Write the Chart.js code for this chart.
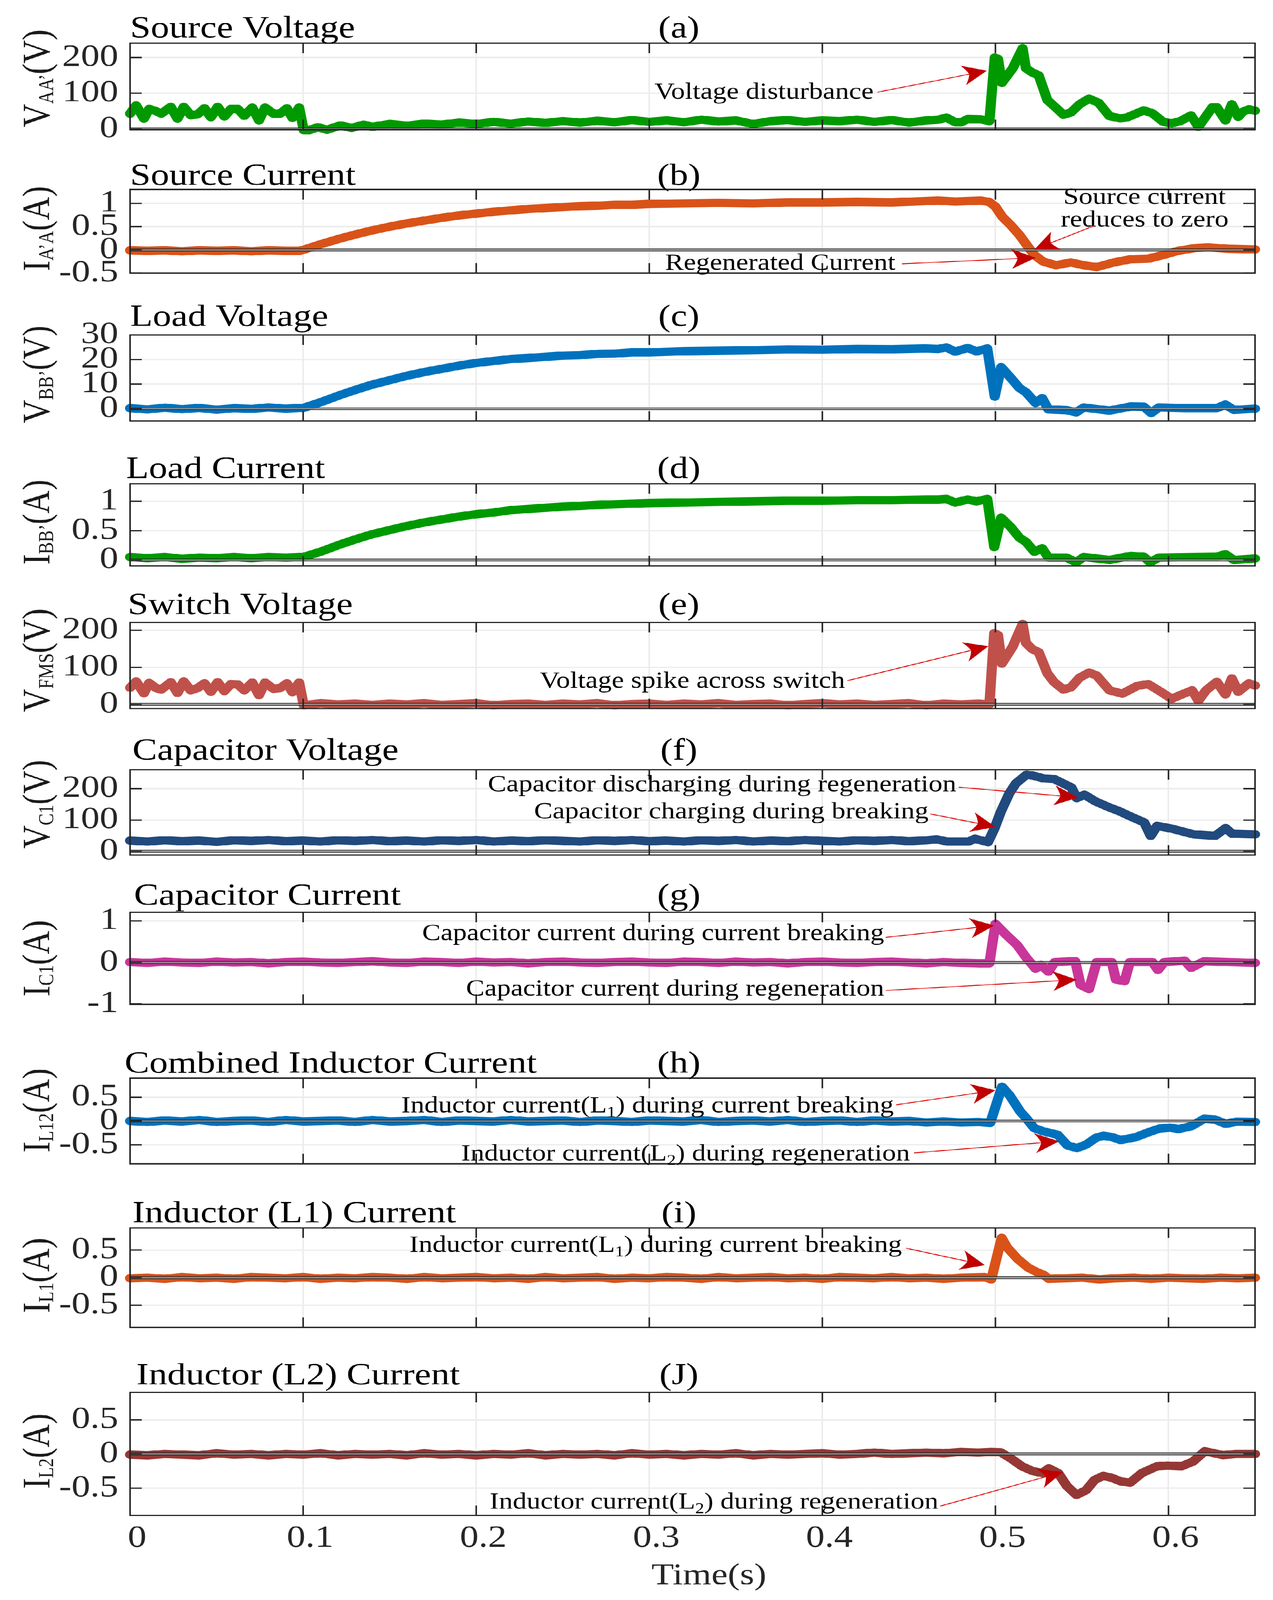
<!DOCTYPE html>
<html>
<head>
<meta charset="utf-8">
<script src="https://cdn.jsdelivr.net/npm/chart.js@4.4.0/dist/chart.umd.min.js"></script>
<style>
  html, body { margin: 0; background: #fff; overflow: hidden; }
  #page { position: relative; width: 3259px; height: 4958px; background: #fff; transform-origin: 0 0; }
  #page canvas { position: absolute; left: 0; }
</style>
</head>
<body>
<div id="page"></div>
<script>
// ---- data (time in s, value in V or A) ----
const xTicks = [0, 0.1, 0.2, 0.3, 0.4, 0.5, 0.6];

const srcVoltage = [
  [0,43],[0.0035,66],[0.008,29],[0.011,56],[0.015,50],[0.018,43],[0.0235,62],[0.0274,29],[0.031,62],[0.035,39],[0.039,41],[0.043,58],[0.0467,33],[0.0506,62],[0.0545,35],[0.0583,56],[0.0622,56],[0.066,37],[0.0706,60],[0.0745,24],[0.078,60],[0.0828,43],[0.0867,43],[0.0906,58],[0.0938,31],[0.0977,60],
  [0.1003,-3],[0.1035,-3],[0.1086,5],[0.1138,-2],[0.1215,10],[0.128,3],[0.135,12],[0.14,6],[0.15,14],[0.16,9],[0.17,15],[0.18,12],[0.19,18],[0.2,14],[0.21,20],[0.22,15],[0.23,21],[0.24,17],[0.25,22],[0.26,18],[0.27,23],[0.28,19],[0.29,25],[0.3,20],[0.31,24],[0.32,19],[0.33,26],[0.34,21],[0.35,24],[0.36,14],[0.37,22],[0.38,25],[0.39,20],[0.4,24],[0.41,22],[0.42,26],[0.43,20],[0.44,25],[0.45,18],[0.46,24],
  [0.467,26],[0.4717,32],[0.4767,19],[0.4804,19],[0.484,28],[0.4916,27],[0.4965,22],[0.4996,200],[0.5015,196],[0.5037,129],[0.51,170],[0.5157,226],[0.5176,170],[0.5213,158],[0.525,150],[0.53,81],[0.5337,65],[0.5393,40],[0.5436,46],[0.5486,69],[0.5541,85],[0.5597,73],[0.5659,36],[0.5721,30],[0.5758,32],[0.5857,52],[0.5907,44],[0.5969,20],[0.6018,16],[0.6068,22],[0.613,38],[0.6173,6],[0.6217,36],[0.6254,61],[0.6279,61],[0.6329,24],[0.6366,69],[0.6403,34],[0.6428,48],[0.6465,55],[0.65,51]
];

const srcCurrent = [
  [0,-0.01],[0.01,-0.02],[0.02,-0.01],[0.03,-0.03],[0.04,-0.01],[0.05,-0.02],[0.06,-0.01],[0.07,-0.03],[0.08,-0.01],[0.09,-0.02],[0.098,-0.02],[0.1,0],[0.11,0.12],[0.12,0.23],[0.13,0.33],[0.14,0.42],[0.15,0.5],[0.16,0.57],[0.17,0.63],[0.18,0.69],[0.19,0.74],[0.2,0.78],[0.21,0.82],[0.22,0.85],[0.23,0.88],[0.24,0.9],[0.25,0.92],[0.26,0.94],[0.27,0.95],[0.28,0.97],[0.29,0.97],[0.3,0.99],[0.32,1.0],[0.34,1.01],[0.36,1.0],[0.38,1.02],[0.4,1.02],[0.42,1.03],[0.44,1.02],[0.46,1.05],
  [0.4668,1.06],[0.4767,1.04],[0.4916,1.06],[0.4965,1.03],[0.5,0.93],[0.504,0.71],[0.5089,0.53],[0.5139,0.32],[0.5188,0.07],[0.5225,-0.11],[0.5275,-0.25],[0.535,-0.33],[0.5436,-0.27],[0.551,-0.33],[0.5585,-0.37],[0.5684,-0.27],[0.5783,-0.2],[0.5882,-0.19],[0.5969,-0.11],[0.6056,-0.02],[0.6155,0.04],[0.6229,0.055],[0.634,0.025],[0.65,0.01]
];

const loadVoltage = [
  [0,0.2],[0.01,-0.3],[0.02,0.4],[0.03,-0.2],[0.04,0.3],[0.05,-0.4],[0.06,0.2],[0.07,-0.1],[0.08,0.5],[0.09,0],[0.098,0.3],[0.1,0.3],[0.11,2.6],[0.12,5.2],[0.13,7.6],[0.14,9.8],[0.15,11.6],[0.16,13.4],[0.17,14.9],[0.18,16.2],[0.19,17.5],[0.2,18.6],[0.21,19.4],[0.22,20.2],[0.23,20.6],[0.24,21.1],[0.25,21.6],[0.26,21.8],[0.27,22.3],[0.28,22.4],[0.29,22.9],[0.3,22.9],[0.32,23.4],[0.34,23.6],[0.36,23.8],[0.38,24.1],[0.4,24.0],[0.42,24.3],[0.44,24.2],[0.46,24.5],
  [0.4668,24.3],[0.4717,24.9],[0.4767,23.2],[0.484,24.7],[0.4891,23.3],[0.4953,24.5],[0.4996,4.9],[0.5033,16.9],[0.5089,12.5],[0.5139,8.4],[0.5176,6.7],[0.5232,2.3],[0.527,4.3],[0.5306,-0.3],[0.5411,-0.6],[0.5467,-1.5],[0.551,0.5],[0.5659,-0.8],[0.5783,0.9],[0.5857,0.8],[0.59,-1.8],[0.5944,0.5],[0.6093,0.2],[0.6279,0.2],[0.6328,1.7],[0.6378,-0.5],[0.65,0]
];

const loadCurrent = [
  [0,0.05],[0.01,0.03],[0.02,0.05],[0.03,0.02],[0.04,0.04],[0.05,0.03],[0.06,0.05],[0.07,0.03],[0.08,0.05],[0.09,0.04],[0.098,0.05],[0.1,0.05],[0.11,0.14],[0.12,0.25],[0.13,0.35],[0.14,0.44],[0.15,0.51],[0.16,0.58],[0.17,0.64],[0.18,0.69],[0.19,0.74],[0.2,0.78],[0.21,0.81],[0.22,0.85],[0.23,0.87],[0.24,0.89],[0.25,0.91],[0.26,0.92],[0.27,0.94],[0.28,0.95],[0.29,0.96],[0.3,0.97],[0.32,0.98],[0.34,0.99],[0.36,1.0],[0.38,1.01],[0.4,1.01],[0.42,1.02],[0.44,1.02],[0.46,1.03],
  [0.4668,1.03],[0.4717,1.04],[0.4767,0.98],[0.484,1.03],[0.4891,1.0],[0.4953,1.04],[0.4993,0.22],[0.5033,0.72],[0.5089,0.56],[0.5139,0.38],[0.5176,0.31],[0.5225,0.14],[0.527,0.2],[0.5306,0.04],[0.5411,0.04],[0.5467,-0.04],[0.551,0.05],[0.5659,0],[0.5783,0.07],[0.5857,0.055],[0.5894,-0.04],[0.5944,0.04],[0.6279,0.055],[0.6328,0.1],[0.6378,0],[0.65,0.025]
];

const switchVoltage = [
  [0,45],[0.0035,62],[0.008,30],[0.011,58],[0.015,44],[0.018,40],[0.0235,60],[0.0274,31],[0.031,62],[0.035,38],[0.039,44],[0.043,57],[0.0467,34],[0.0506,60],[0.0545,36],[0.0583,55],[0.0622,54],[0.066,38],[0.0706,59],[0.0745,25],[0.078,59],[0.0828,42],[0.0867,44],[0.0906,57],[0.0938,33],[0.0977,59],
  [0.1003,-2],[0.11,3],[0.12,0],[0.13,2],[0.14,-1],[0.15,2],[0.16,0],[0.17,3],[0.18,-1],[0.19,1],[0.2,3],[0.21,-2],[0.22,1],[0.23,2],[0.24,-1],[0.25,2],[0.26,0],[0.27,3],[0.28,-2],[0.29,1],[0.3,2],[0.31,-1],[0.32,2],[0.33,0],[0.34,3],[0.35,-1],[0.36,1],[0.37,2],[0.38,-2],[0.39,1],[0.4,3],[0.41,0],[0.42,2],[0.43,-1],[0.44,1],[0.45,3],[0.46,-2],[0.47,2],[0.48,0],[0.49,2],
  [0.4965,0],[0.4993,192],[0.5015,187],[0.5037,110],[0.51,156],[0.5157,217],[0.5176,166],[0.5213,149],[0.525,141],[0.53,84],[0.5337,61],[0.5393,40],[0.5436,46],[0.5486,72],[0.5541,86],[0.5585,78],[0.5659,38],[0.5733,29],[0.582,50],[0.5882,55],[0.5956,34],[0.6018,15],[0.6068,25],[0.6136,38],[0.6173,10],[0.6217,38],[0.6279,61],[0.6329,27],[0.6366,70],[0.6403,34],[0.6465,57],[0.65,51]
];

const capVoltage = [
  [0,34],[0.01,31],[0.02,35],[0.03,32],[0.04,34],[0.05,30],[0.06,35],[0.07,33],[0.08,36],[0.09,32],[0.1,34],[0.11,31],[0.12,35],[0.13,33],[0.14,36],[0.15,32],[0.16,34],[0.17,31],[0.18,35],[0.19,33],[0.2,36],[0.21,31],[0.22,34],[0.23,32],[0.24,35],[0.25,33],[0.26,31],[0.27,35],[0.28,33],[0.29,36],[0.3,32],[0.31,34],[0.32,31],[0.33,35],[0.34,33],[0.35,36],[0.36,31],[0.37,34],[0.38,32],[0.39,36],[0.4,33],[0.41,31],[0.42,35],[0.43,33],[0.44,36],[0.45,32],[0.46,35],
  [0.466,38],[0.4722,31],[0.4845,31],[0.4882,40],[0.4957,29],[0.4994,72],[0.5031,126],[0.508,185],[0.5118,217],[0.518,245],[0.5217,242],[0.5278,233],[0.534,231],[0.5439,204],[0.547,170],[0.5514,181],[0.5576,160],[0.565,142],[0.5712,129],[0.5774,113],[0.586,92],[0.5897,49],[0.5934,81],[0.6021,72],[0.6145,54],[0.6269,49],[0.633,74],[0.6368,56],[0.65,54]
];

const capCurrent = [
  [0,0.01],[0.01,-0.01],[0.02,0.02],[0.03,0],[0.04,-0.01],[0.05,0.02],[0.06,0],[0.07,0.01],[0.08,-0.02],[0.09,0.01],[0.1,0.02],[0.11,0],[0.12,-0.01],[0.13,0.01],[0.14,0.03],[0.15,0],[0.16,-0.01],[0.17,0.02],[0.18,0.01],[0.19,-0.01],[0.2,0.02],[0.21,0],[0.22,0.01],[0.23,-0.02],[0.24,0.01],[0.25,0.02],[0.26,0],[0.27,-0.01],[0.28,0.01],[0.29,0.02],[0.3,0],[0.31,-0.01],[0.32,0.02],[0.33,0.01],[0.34,-0.01],[0.35,0.02],[0.36,0],[0.37,0.01],[0.38,-0.02],[0.39,0.01],[0.4,0.02],[0.41,0],[0.42,-0.01],[0.43,0.01],[0.44,0.02],[0.45,0],[0.46,-0.02],[0.47,0.01],[0.48,-0.01],[0.49,-0.02],
  [0.4965,-0.02],[0.5,0.93],[0.5064,0.66],[0.5126,0.42],[0.5176,0.13],[0.5232,-0.15],[0.5263,-0.06],[0.5306,-0.22],[0.5343,0.01],[0.5461,0.035],[0.5492,-0.54],[0.5541,-0.64],[0.5585,0.01],[0.5672,0.01],[0.5696,-0.41],[0.5746,-0.45],[0.5777,0.01],[0.5907,0.01],[0.5939,-0.18],[0.5976,0.01],[0.6093,0.045],[0.6131,-0.13],[0.6205,0.03],[0.635,0.01],[0.65,-0.01]
];

const combInductor = [
  [0,0],[0.01,-0.02],[0.02,0.01],[0.03,-0.01],[0.04,0.02],[0.05,-0.02],[0.06,0],[0.07,0.01],[0.08,-0.02],[0.09,0.02],[0.1,-0.01],[0.11,0],[0.12,0.01],[0.13,-0.02],[0.14,0.02],[0.15,-0.01],[0.16,0],[0.17,0.02],[0.18,-0.02],[0.19,0.01],[0.2,0],[0.21,-0.01],[0.22,0.02],[0.23,-0.01],[0.24,0],[0.25,0.01],[0.26,-0.02],[0.27,0.01],[0.28,0],[0.29,-0.02],[0.3,0.01],[0.31,0],[0.32,-0.01],[0.33,0.02],[0.34,-0.02],[0.35,0],[0.36,0.01],[0.37,-0.01],[0.38,0.02],[0.39,-0.02],[0.4,0],[0.41,0.01],[0.42,-0.02],[0.43,0.01],[0.44,-0.01],[0.45,0],[0.46,-0.03],[0.47,-0.01],[0.48,-0.03],[0.49,-0.02],
  [0.497,-0.04],[0.5038,0.72],[0.5082,0.54],[0.5143,0.2],[0.518,0.05],[0.5224,-0.15],[0.528,-0.22],[0.536,-0.29],[0.5415,-0.51],[0.5471,-0.57],[0.5527,-0.49],[0.5582,-0.35],[0.5625,-0.31],[0.5675,-0.34],[0.5724,-0.4],[0.5811,-0.34],[0.5897,-0.22],[0.5947,-0.16],[0.6009,-0.14],[0.6058,-0.17],[0.6132,-0.11],[0.6206,0.046],[0.6268,0.03],[0.633,-0.06],[0.6392,-0.015],[0.65,-0.02]
];

const inductor1 = [
  [0,-0.01],[0.01,0],[0.02,-0.02],[0.03,0.01],[0.04,-0.01],[0.05,0],[0.06,-0.02],[0.07,0.01],[0.08,0],[0.09,-0.01],[0.1,0.01],[0.11,-0.02],[0.12,0],[0.13,-0.01],[0.14,0.01],[0.15,0],[0.16,-0.02],[0.17,0.01],[0.18,-0.01],[0.19,0],[0.2,0.01],[0.21,-0.01],[0.22,0],[0.23,-0.02],[0.24,0.01],[0.25,-0.01],[0.26,0],[0.27,0.01],[0.28,-0.02],[0.29,0],[0.3,-0.01],[0.31,0.01],[0.32,0],[0.33,-0.02],[0.34,0.01],[0.35,-0.01],[0.36,0],[0.37,0.01],[0.38,-0.01],[0.39,0],[0.4,-0.02],[0.41,0.01],[0.42,0],[0.43,-0.01],[0.44,0.01],[0.45,-0.01],[0.46,0],[0.47,-0.02],[0.48,0],
  [0.4937,0.01],[0.4976,-0.03],[0.5036,0.72],[0.5067,0.55],[0.5128,0.34],[0.519,0.18],[0.524,0.1],[0.5277,0.054],[0.5308,-0.02],[0.54,-0.01],[0.55,0],[0.56,-0.03],[0.57,-0.01],[0.58,0],[0.59,-0.02],[0.6,0],[0.61,-0.01],[0.62,-0.02],[0.63,0],[0.64,-0.01],[0.65,0]
];

const inductor2 = [
  [0,-0.01],[0.01,-0.02],[0.02,0],[0.03,-0.01],[0.04,-0.02],[0.05,0.01],[0.06,-0.01],[0.07,0],[0.08,-0.02],[0.09,0],[0.1,-0.01],[0.11,0.01],[0.12,-0.02],[0.13,0],[0.14,-0.01],[0.15,0],[0.16,-0.02],[0.17,0.01],[0.18,-0.01],[0.19,0],[0.2,-0.02],[0.21,0],[0.22,-0.01],[0.23,0.01],[0.24,-0.02],[0.25,0],[0.26,-0.01],[0.27,0],[0.28,-0.02],[0.29,0.01],[0.3,-0.01],[0.31,0],[0.32,-0.02],[0.33,0],[0.34,-0.01],[0.35,0.01],[0.36,-0.02],[0.37,0],[0.38,-0.01],[0.39,0],[0.4,0.01],[0.41,-0.01],[0.42,0],[0.43,0.02],[0.44,0],[0.45,0.01],[0.46,0.02],[0.47,0.01],[0.48,0.03],[0.49,0.02],
  [0.4975,0.03],[0.503,0.025],[0.5092,-0.07],[0.5153,-0.18],[0.5215,-0.25],[0.5271,-0.28],[0.5308,-0.21],[0.5363,-0.28],[0.5413,-0.47],[0.5468,-0.6],[0.5524,-0.53],[0.5573,-0.38],[0.5623,-0.32],[0.5673,-0.35],[0.5722,-0.4],[0.5778,-0.42],[0.5846,-0.28],[0.5933,-0.18],[0.5994,-0.17],[0.6075,-0.18],[0.6142,-0.11],[0.621,0.04],[0.6315,-0.017],[0.6389,0],[0.65,0]
];

const FONT = '"Liberation Serif", "Times New Roman", serif';
const INK = '#262626';
const L1text = [['Inductor current(L', 0], ['1', 1], [') during current breaking', 0]];
const L2text = [['Inductor current(L', 0], ['2', 1], [') during regeneration', 0]];

// panel layout: plot box top/bottom in figure pixels (3259 x 4958 figure)
const panels = [
  { title: 'Source Voltage', tag: '(a)', top: 134, bottom: 465, gap: 18, dx: 0, ldy: -25, data: srcVoltage, color: '#009a00',
    yMin: -1.5, yMax: 240, yTicks: [0, 100, 200], label: [['V', 0], ['AA’', 1], ['(V)', 0]],
    notes: [{ text: [['Voltage disturbance', 0]], x: 0.4296, y: 106, align: 'right', tail: [0.4318, 103], tip: [0.495, 163] }] },
  { title: 'Source Current', tag: '(b)', top: 587, bottom: 910, gap: 14, dx: 0, ldy: -8, data: srcCurrent, color: '#d95319',
    yMin: -0.5, yMax: 1.3, yTicks: [-0.5, 0, 0.5, 1], label: [['I', 0], ['A’A', 1], ['(A)', 0]],
    notes: [{ text: [['Source current', 0]], x: 0.5862, y: 1.156, align: 'center' },
            { text: [['reduces to zero', 0]], x: 0.5862, y: 0.667, align: 'center', tail: [0.5569, 0.517], tip: [0.5226, 0.011] },
            { text: [['Regenerated Current', 0]], x: 0.4422, y: -0.26, align: 'right', tail: [0.446, -0.3], tip: [0.5232, -0.17] }] },
  { title: 'Load Voltage', tag: '(c)', top: 1038, bottom: 1368, gap: 28, dx: 0, ldy: -11, data: loadVoltage, color: '#0072bd',
    yMin: -5, yMax: 30, yTicks: [0, 10, 20, 30], label: [['V', 0], ['BB’', 1], ['(V)', 0]], notes: [] },
  { title: 'Load Current', tag: '(d)', top: 1499, bottom: 1817, gap: 18, dx: -10, ldy: -8, data: loadCurrent, color: '#009a00',
    yMin: -0.1, yMax: 1.3, yTicks: [0, 0.5, 1], label: [['I', 0], ['BB’', 1], ['(A)', 0]], notes: [] },
  { title: 'Switch Voltage', tag: '(e)', top: 1929, bottom: 2259, gap: 26, dx: -6, ldy: -16, data: switchVoltage, color: '#c0514a',
    yMin: -11, yMax: 221, yTicks: [0, 100, 200], label: [['V', 0], ['FMS', 1], ['(V)', 0]],
    notes: [{ text: [['Voltage spike across switch', 0]], x: 0.4131, y: 66, align: 'right', tail: [0.4144, 64], tip: [0.4959, 157] }] },
  { title: 'Capacitor Voltage', tag: '(f)', top: 2385, bottom: 2713, gap: 31, dx: 6, ldy: -25, data: capVoltage, color: '#214a7e',
    yMin: -12, yMax: 261, yTicks: [0, 100, 200], label: [['V', 0], ['C1', 1], ['(V)', 0]],
    notes: [{ text: [['Capacitor discharging during regeneration', 0]], x: 0.4774, y: 217, align: 'right', tail: [0.4788, 205], tip: [0.5479, 172] },
            { text: [['Capacitor charging during breaking', 0]], x: 0.4614, y: 129.5, align: 'right', tail: [0.4623, 119.5], tip: [0.5, 78] }] },
  { title: 'Capacitor Current', tag: '(g)', top: 2827, bottom: 3176, gap: 23, dx: 10, ldy: 0, data: capCurrent, color: '#c8369a',
    yMin: -1.01, yMax: 1.21, yTicks: [-1, 0, 1], label: [['I', 0], ['C1', 1], ['(A)', 0]],
    notes: [{ text: [['Capacitor current during current breaking', 0]], x: 0.4357, y: 0.726, align: 'right', tail: [0.4366, 0.605], tip: [0.4993, 0.892] },
            { text: [['Capacitor current during regeneration', 0]], x: 0.4357, y: -0.61, align: 'right', tail: [0.4366, -0.675], tip: [0.547, -0.414] }] },
  { title: 'Combined Inductor Current', tag: '(h)', top: 3341, bottom: 3670, gap: 17, dx: -14, ldy: -33, data: combInductor, color: '#0072bd',
    yMin: -0.9, yMax: 0.9, yTicks: [-0.5, 0, 0.5], label: [['I', 0], ['L12', 1], ['(A)', 0]],
    notes: [{ text: L1text, x: 0.4413, y: 0.342, align: 'right', tail: [0.4427, 0.34], tip: [0.5, 0.645] },
            { text: L2text, x: 0.4506, y: -0.67, align: 'right', tail: [0.453, -0.67], tip: [0.5368, -0.426] }] },
  { title: 'Inductor (L1) Current', tag: '(i)', top: 3805, bottom: 4177, gap: 17, dx: 6, ldy: -7, data: inductor1, color: '#d95319',
    yMin: -0.9, yMax: 0.9, yTicks: [-0.5, 0, 0.5], label: [['I', 0], ['L1', 1], ['(A)', 0]],
    notes: [{ text: L1text, x: 0.446, y: 0.611, align: 'right', tail: [0.4483, 0.534], tip: [0.4939, 0.227] }] },
  { title: 'Inductor (L2) Current', tag: '(J)', top: 4315, bottom: 4696, gap: 25, dx: 16, ldy: -9, data: inductor2, color: '#953835',
    yMin: -0.9, yMax: 0.9, yTicks: [-0.5, 0, 0.5], label: [['I', 0], ['L2', 1], ['(A)', 0]],
    notes: [{ text: L2text, x: 0.467, y: -0.689, align: 'right', tail: [0.468, -0.764], tip: [0.539, -0.263] }] }
];

function richWidth(ctx, segs, main, sub) {
  let w = 0;
  for (const [s, isSub] of segs) {
    ctx.font = (isSub ? sub : main) + 'px ' + FONT;
    w += ctx.measureText(s).width;
  }
  return w;
}

function drawRich(ctx, segs, x, base, main, sub, drop) {
  let cx = x;
  for (const [s, isSub] of segs) {
    ctx.font = (isSub ? sub : main) + 'px ' + FONT;
    ctx.fillText(s, cx, base + (isSub ? drop : 0));
    cx += ctx.measureText(s).width;
  }
}

function arrow(ctx, x0, y0, x1, y1) {
  const ang = Math.atan2(y1 - y0, x1 - x0);
  const c = Math.cos(ang), s = Math.sin(ang);
  const pt = (a, p) => [x1 - a * c - p * s, y1 - a * s + p * c];
  const L = 62, W = 31, N = 46;
  const n = pt(N, 0);
  ctx.strokeStyle = '#dd0000';
  ctx.lineWidth = 2.5;
  ctx.beginPath(); ctx.moveTo(x0, y0); ctx.lineTo(n[0], n[1]); ctx.stroke();
  const c1 = pt(L, W), c2 = pt(L, -W), q1 = pt(N + 4, W * 0.45), q2 = pt(N + 4, -W * 0.45);
  ctx.fillStyle = '#c00000';
  ctx.beginPath();
  ctx.moveTo(x1, y1);
  ctx.lineTo(c1[0], c1[1]);
  ctx.quadraticCurveTo(q1[0], q1[1], n[0], n[1]);
  ctx.quadraticCurveTo(q2[0], q2[1], c2[0], c2[1]);
  ctx.closePath();
  ctx.fill();
}

function decorFor(p, last) {
  return {
    id: 'decor',
    afterDatasetsDraw(chart) {
      const { ctx, chartArea: a, scales: { x, y } } = chart;
      ctx.save();
      // zero line
      const y0 = y.getPixelForValue(0);
      ctx.fillStyle = 'rgba(140,140,140,0.85)';
      ctx.fillRect(a.left, y0 - 3.5, a.right - a.left, 7);
      ctx.strokeStyle = '#111';
      ctx.lineWidth = 1.4;
      ctx.strokeRect(a.left, y0 - 3.5, a.right - a.left, 7);
      // frame and inward ticks
      ctx.strokeStyle = INK;
      ctx.lineWidth = 4;
      ctx.strokeRect(a.left, a.top, a.right - a.left, a.bottom - a.top);
      ctx.beginPath();
      for (const v of xTicks) {
        const px = x.getPixelForValue(v);
        ctx.moveTo(px, a.bottom); ctx.lineTo(px, a.bottom - 31);
        ctx.moveTo(px, a.top); ctx.lineTo(px, a.top + 31);
      }
      for (const v of p.yTicks) {
        const py = y.getPixelForValue(v);
        ctx.moveTo(a.left, py); ctx.lineTo(a.left + 30, py);
        ctx.moveTo(a.right, py); ctx.lineTo(a.right - 30, py);
      }
      ctx.stroke();
      // title and panel tag
      ctx.fillStyle = '#000';
      ctx.textBaseline = 'alphabetic';
      ctx.font = '95px ' + FONT;
      ctx.textAlign = 'left';
      ctx.fillText(p.title, a.left + p.dx, a.top - p.gap);
      ctx.textAlign = 'center';
      ctx.fillText(p.tag, 1738, a.top - p.gap);
      if (last) {
        ctx.fillStyle = INK;
        ctx.font = '94px ' + FONT;
        ctx.fillText('Time(s)', 1815, a.bottom + 213);
      }
      ctx.textAlign = 'left';
      // rotated y label with subscript
      ctx.fillStyle = '#1a1a1a';
      const lw = richWidth(ctx, p.label, 100, 55);
      ctx.save();
      ctx.translate(126, (a.top + a.bottom) / 2 + p.ldy);
      ctx.rotate(-Math.PI / 2);
      drawRich(ctx, p.label, -lw / 2, 0, 100, 55, 10);
      ctx.restore();
      // annotations
      for (const n of p.notes) {
        const px = x.getPixelForValue(n.x), py = y.getPixelForValue(n.y);
        const w = richWidth(ctx, n.text, 71, 46);
        const sx = n.align === 'right' ? px - w : n.align === 'center' ? px - w / 2 : px;
        ctx.fillStyle = '#000';
        drawRich(ctx, n.text, sx, py + 24, 71, 46, 14);
        if (n.tip) {
          arrow(ctx, x.getPixelForValue(n.tail[0]), y.getPixelForValue(n.tail[1]),
                x.getPixelForValue(n.tip[0]), y.getPixelForValue(n.tip[1]));
        }
      }
      ctx.restore();
    }
  };
}

const page = document.getElementById('page');
// the window may be shorter than the 4958 px figure: squeeze the figure to fit it
const fitY = Math.min(1, window.innerHeight / 4958);
page.style.transform = 'scale(1,' + fitY + ')';

panels.forEach((p, i) => {
  const last = i === panels.length - 1;
  const cTop = Math.max(0, p.top - 140);
  const padTop = p.top - cTop;
  const plotH = p.bottom - p.top;
  const xH = last ? 240 : 0;
  const padBottom = last ? (4958 - cTop) - padTop - plotH - xH : 24;
  const H = padTop + plotH + xH + padBottom;

  const cv = document.createElement('canvas');
  cv.width = 3259; cv.height = H;
  cv.style.top = cTop + 'px';
  cv.style.width = '3259px'; cv.style.height = H + 'px';
  page.appendChild(cv);

  new Chart(cv, {
    type: 'line',
    data: {
      datasets: [{
        data: p.data.map(([t, v]) => ({ x: t, y: v })),
        borderColor: p.color,
        borderWidth: 26,
        pointRadius: 0,
        tension: 0,
        borderJoinStyle: 'round',
        borderCapStyle: 'round',
        fill: false,
        clip: false
      }]
    },
    options: {
      responsive: false,
      animation: false,
      devicePixelRatio: 1,
      layout: { padding: { top: padTop, bottom: padBottom, left: 0, right: 46 } },
      plugins: { legend: { display: false }, tooltip: { enabled: false } },
      scales: {
        x: {
          type: 'linear', min: 0, max: 0.65,
          afterBuildTicks: s => { s.ticks = xTicks.map(v => ({ value: v })); },
          afterFit: s => { s.height = xH; },
          grid: { color: '#ececec', lineWidth: 4, drawTicks: false },
          border: { display: false },
          ticks: { display: last, padding: 14, labelOffset: 18, color: INK, autoSkip: false, maxRotation: 0,
                   font: { family: FONT, size: 96 }, callback: v => String(v) }
        },
        y: {
          type: 'linear', min: p.yMin, max: p.yMax,
          afterBuildTicks: s => { s.ticks = p.yTicks.map(v => ({ value: v })); },
          afterFit: s => { s.width = 333; },
          grid: { color: '#ececec', lineWidth: 4, drawTicks: false },
          border: { display: false },
          ticks: { padding: 30, color: INK, autoSkip: false, font: { family: FONT, size: 96 },
                   callback: v => String(v) }
        }
      }
    },
    plugins: [decorFor(p, last)]
  });
});
</script>
</body>
</html>
